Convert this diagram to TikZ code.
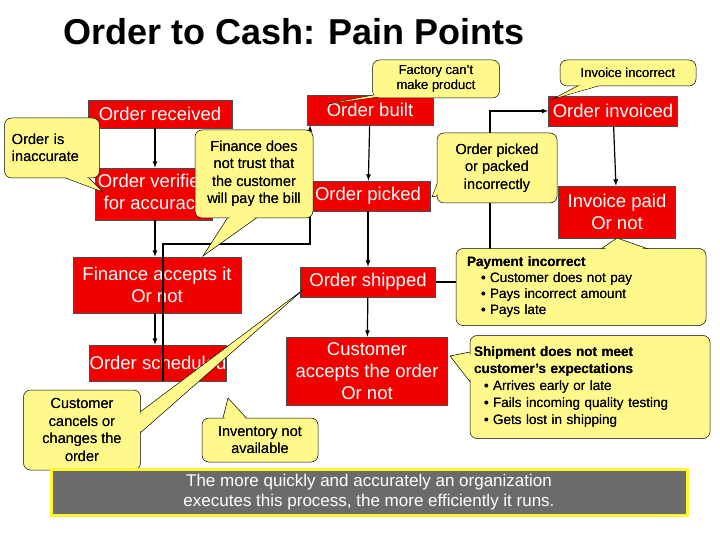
\documentclass[tikz,border=0pt]{standalone}
\usepackage{fontspec}
\setmainfont{Liberation Sans}
\usetikzlibrary{calc}
\newcommand\callout[9]{%
\draw[ptr] (#7) -- (#8) -- (#9) -- cycle;
\node[cb,minimum width=#3,minimum height=#4,#5] (#1) at (#2) {#6};
\fill[ptrf] ($(#7)!0.1!($(#8)!0.5!(#9)$)$) -- ($(#8)!0.07!(#9)$) -- ($(#9)!0.07!(#8)$) -- cycle;
\node[cb,draw=none,fill=none,minimum width=#3,minimum height=#4,#5] at (#2) {#6};}
\begin{document}
\begin{tikzpicture}[x=1pt,y=-1pt,
  box/.style={draw=black!70,fill=red!95!black,text=white,font=\fontsize{18.5}{22}\selectfont,align=center,inner sep=0pt,line width=0.6pt},
  cb/.style={draw=black,fill=yellow!45,rounded corners=7pt,line width=0.5pt,align=center,inner sep=2pt,font=\fontsize{14.5}{17.5}\selectfont},
  ptr/.style={draw=black,fill=yellow!45,line width=0.5pt,line join=miter},
  ptrf/.style={fill=yellow!45},
  ar/.style={-latex,line width=1.2pt}]
\useasboundingbox (0,0) rectangle (720,540);
\node[anchor=west,font=\fontsize{36}{40}\selectfont\bfseries] (title) at (60,32) {Order to Cash: Pain Points};
% boxes
\node[box,minimum width=144,minimum height=28] (rec) at (160,114) {Order received};
\node[box,minimum width=117,minimum height=52] (ver) at (154,194) {Order verified\\for accuracy};
\node[box,minimum width=168,minimum height=56] (fin) at (157,285) {Finance accepts it\\Or not};
\node[box,minimum width=133,minimum height=36] (sch) at (158,363) {Order scheduled};
\node[box,minimum width=126,minimum height=30] (blt) at (370,110) {Order built};
\node[box,minimum width=125,minimum height=30] (pck) at (368,196) {Order picked};
\node[box,minimum width=135,minimum height=30] (shp) at (368,282) {Order shipped};
\node[box,minimum width=161,minimum height=68] (acc) at (367,371) {Customer\\accepts the order\\Or not};
\node[box,minimum width=129,minimum height=30] (inv) at (613,111) {Order invoiced};
\node[box,minimum width=117,minimum height=52] (pay) at (617,212) {Invoice paid\\Or not};
% connectors
\draw[ar] (rec.south -| 155,0) -- (ver.north -| 155,0);
\draw[ar] (ver.south -| 155,0) -- (fin.north -| 155,0);
\draw[ar] (fin.south -| 155,0) -- (sch.north -| 155,0);
\coordinate (k1) at (163,244); \coordinate (k2) at (310,244);
\draw[ar] (sch.south -| 163,0) -- (k1) -- (k2) -- (blt.south -| 310,0);
\draw[ar] (blt) -- (pck);
\draw[ar] (pck) -- (shp);
\draw[ar] (shp) -- (acc);
\coordinate (k3) at (490,282); \coordinate (k4) at (490,111);
\draw[ar] (shp.east) -- (k3) -- (k4) -- (inv.west);
\draw[ar] (inv) -- (pay);
% callouts
\callout{c1}{436,79}{127}{38}{font=\fontsize{13}{15.5}\selectfont}{Factory can't\\make product}{327,104}{380,94}{398,94}
\callout{c2}{628,73}{136}{26}{font=\fontsize{13}{15.5}\selectfont}{Invoice incorrect}{553,99}{585,82}{612,82}
\callout{c3}{52,148}{95}{60}{align=left,text width=80}{Order is\\inaccurate}{103,192}{55,174}{85,174}
\callout{c4}{254,174}{118}{88}{}{Finance does\\not trust that\\the customer\\will pay the bill}{203,256}{230,214}{262,214}
\callout{c5}{497,168}{120}{70}{}{Order picked\\or packed\\incorrectly}{432,197}{441,174}{441,195}
\callout{c6}{581,287}{250}{77}{align=left,text width=240,font=\fontsize{13.5}{16}\selectfont}{\hspace*{6pt}\textbf{Payment incorrect}\\
\hspace*{20pt}• Customer does not pay\\\hspace*{20pt}• Pays incorrect amount\\\hspace*{20pt}• Pays late}{617,238}{595,253}{660,253}
\callout{c7}{590,387}{240}{103}{align=left,text width=232,font=\fontsize{13.5}{17}\selectfont}{\textbf{Shipment does not meet}\\\textbf{customer's expectations}\\
\hspace*{10pt}• Arrives early or late\\\hspace*{10pt}• Fails incoming quality testing\\\hspace*{10pt}• Gets lost in shipping}{450,356}{480,350}{478,392}
\callout{c8}{82,430}{117}{80}{}{Customer\\cancels or\\changes the\\order}{304,289}{132,418}{139,434}
\callout{c9}{260,440}{116}{44}{}{Inventory not\\available}{228,398}{222,422}{250,422}
% banner
\node[draw=yellow!80,line width=3pt,fill=black!58,text=white,minimum width=636,minimum height=46,align=center,font=\fontsize{17}{20}\selectfont] (ban) at (369,492) {The more quickly and accurately an organization\\executes this process, the more efficiently it runs.};
\end{tikzpicture}
\end{document}
